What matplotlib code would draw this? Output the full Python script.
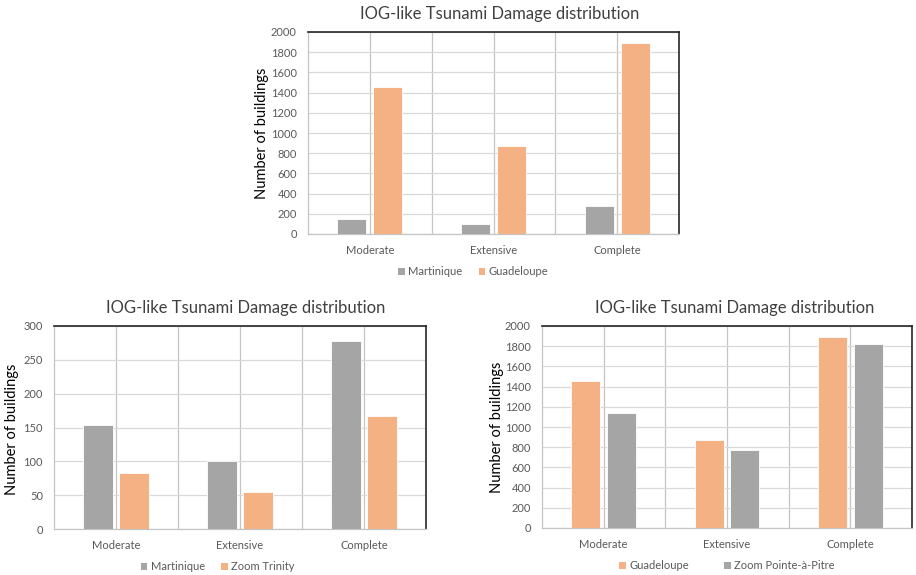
import matplotlib.pyplot as plt
import numpy as np
from matplotlib.patches import Patch

plt.rcParams['font.family'] = ['Lato', 'DejaVu Sans']

# ─────────────────────────────────────────────
# DATA
# ─────────────────────────────────────────────
categories = ["Moderate", "Extensive", "Complete"]
martinique = [153, 100, 278]
guadeloupe = [1452, 867, 1894]
zoom_trinity = [83, 54, 167]
zoom_pap = [1140, 772, 1818]

TITLE = "IOG-like Tsunami Damage distribution"
YLABEL = "Number of buildings"

GREY = "#a5a5a5"
ORANGE = "#f4b183"
TICK_COLOR = "#595959"

W, H = 916, 575
fig = plt.figure(figsize=(W / 100, H / 100), dpi=100)


def px_axes(left, top, right, bottom):
    return fig.add_axes([left / W, 1 - bottom / H, (right - left) / W, (bottom - top) / H])


def bar_panel(ax, series, colors, labels, ymax, ystep, legend_x, legend_gap):
    x = np.arange(len(categories))
    off = 0.145
    for i, (vals, col, lab) in enumerate(zip(series, colors, labels)):
        ax.bar(x + (2 * i - 1) * off, vals, width=0.235, color=col, label=lab,
               edgecolor="white", linewidth=0.6, zorder=3)
    ax.set_xlim(-0.5, len(categories) - 0.5)
    ax.set_ylim(0, ymax)
    ax.set_yticks(np.arange(0, ymax + 1, ystep))
    ax.set_xticks(x)
    ax.set_xticklabels(categories)
    ax.set_xticks(x[:-1] + 0.5, minor=True)
    ax.grid(axis="y", color="#d9d9d9", lw=0.9, zorder=0)
    ax.grid(axis="x", which="both", color="#c4c4c4", lw=0.9, zorder=0)
    ax.tick_params(axis="both", which="both", length=0, colors=TICK_COLOR, labelsize=8)
    ax.tick_params(axis="x", pad=8)
    ax.tick_params(axis="y", pad=8)
    for s in ("top", "right"):
        ax.spines[s].set_color("#262626")
        ax.spines[s].set_linewidth(1.2)
    for s in ("left", "bottom"):
        ax.spines[s].set_color("#c4c4c4")
        ax.spines[s].set_linewidth(0.9)
    handles = [Patch(facecolor=c, edgecolor="none") for c in colors]
    ax.legend(handles, labels, loc="upper center", bbox_to_anchor=(legend_x, -0.11),
              ncol=2, frameon=False, fontsize=8, handlelength=0.6, handleheight=0.6,
              handletextpad=0.3, columnspacing=legend_gap, labelcolor=TICK_COLOR)


# top panel
ax1 = px_axes(308, 32, 679, 234)
bar_panel(ax1, [martinique, guadeloupe], [GREY, ORANGE], ["Martinique", "Guadeloupe"],
          2000, 200, 0.445, 1.5)
fig.text(500 / W, 1 - 14 / H, TITLE, ha="center", va="center", fontsize=12, color="#404040")
fig.text(262 / W, 1 - 133 / H, YLABEL, ha="center", va="center", rotation=90,
         fontsize=10.5, color="#000000")

# bottom left panel
ax2 = px_axes(54, 326, 426, 529)
bar_panel(ax2, [martinique, zoom_trinity], [GREY, ORANGE], ["Martinique", "Zoom Trinity"],
          300, 50, 0.44, 1.5)
fig.text(246 / W, 1 - 308 / H, TITLE, ha="center", va="center", fontsize=12, color="#404040")
fig.text(12 / W, 1 - 429 / H, YLABEL, ha="center", va="center", rotation=90,
         fontsize=10.5, color="#000000")

# bottom right panel
ax3 = px_axes(542, 326, 912, 528)
bar_panel(ax3, [guadeloupe, zoom_pap], [ORANGE, GREY], ["Guadeloupe", "Zoom Pointe-à-Pitre"],
          2000, 200, 0.5, 3.2)
fig.text(735 / W, 1 - 308 / H, TITLE, ha="center", va="center", fontsize=12, color="#404040")
fig.text(497 / W, 1 - 427 / H, YLABEL, ha="center", va="center", rotation=90,
         fontsize=10.5, color="#000000")

fig.savefig("out.png", dpi=100, facecolor="white")
